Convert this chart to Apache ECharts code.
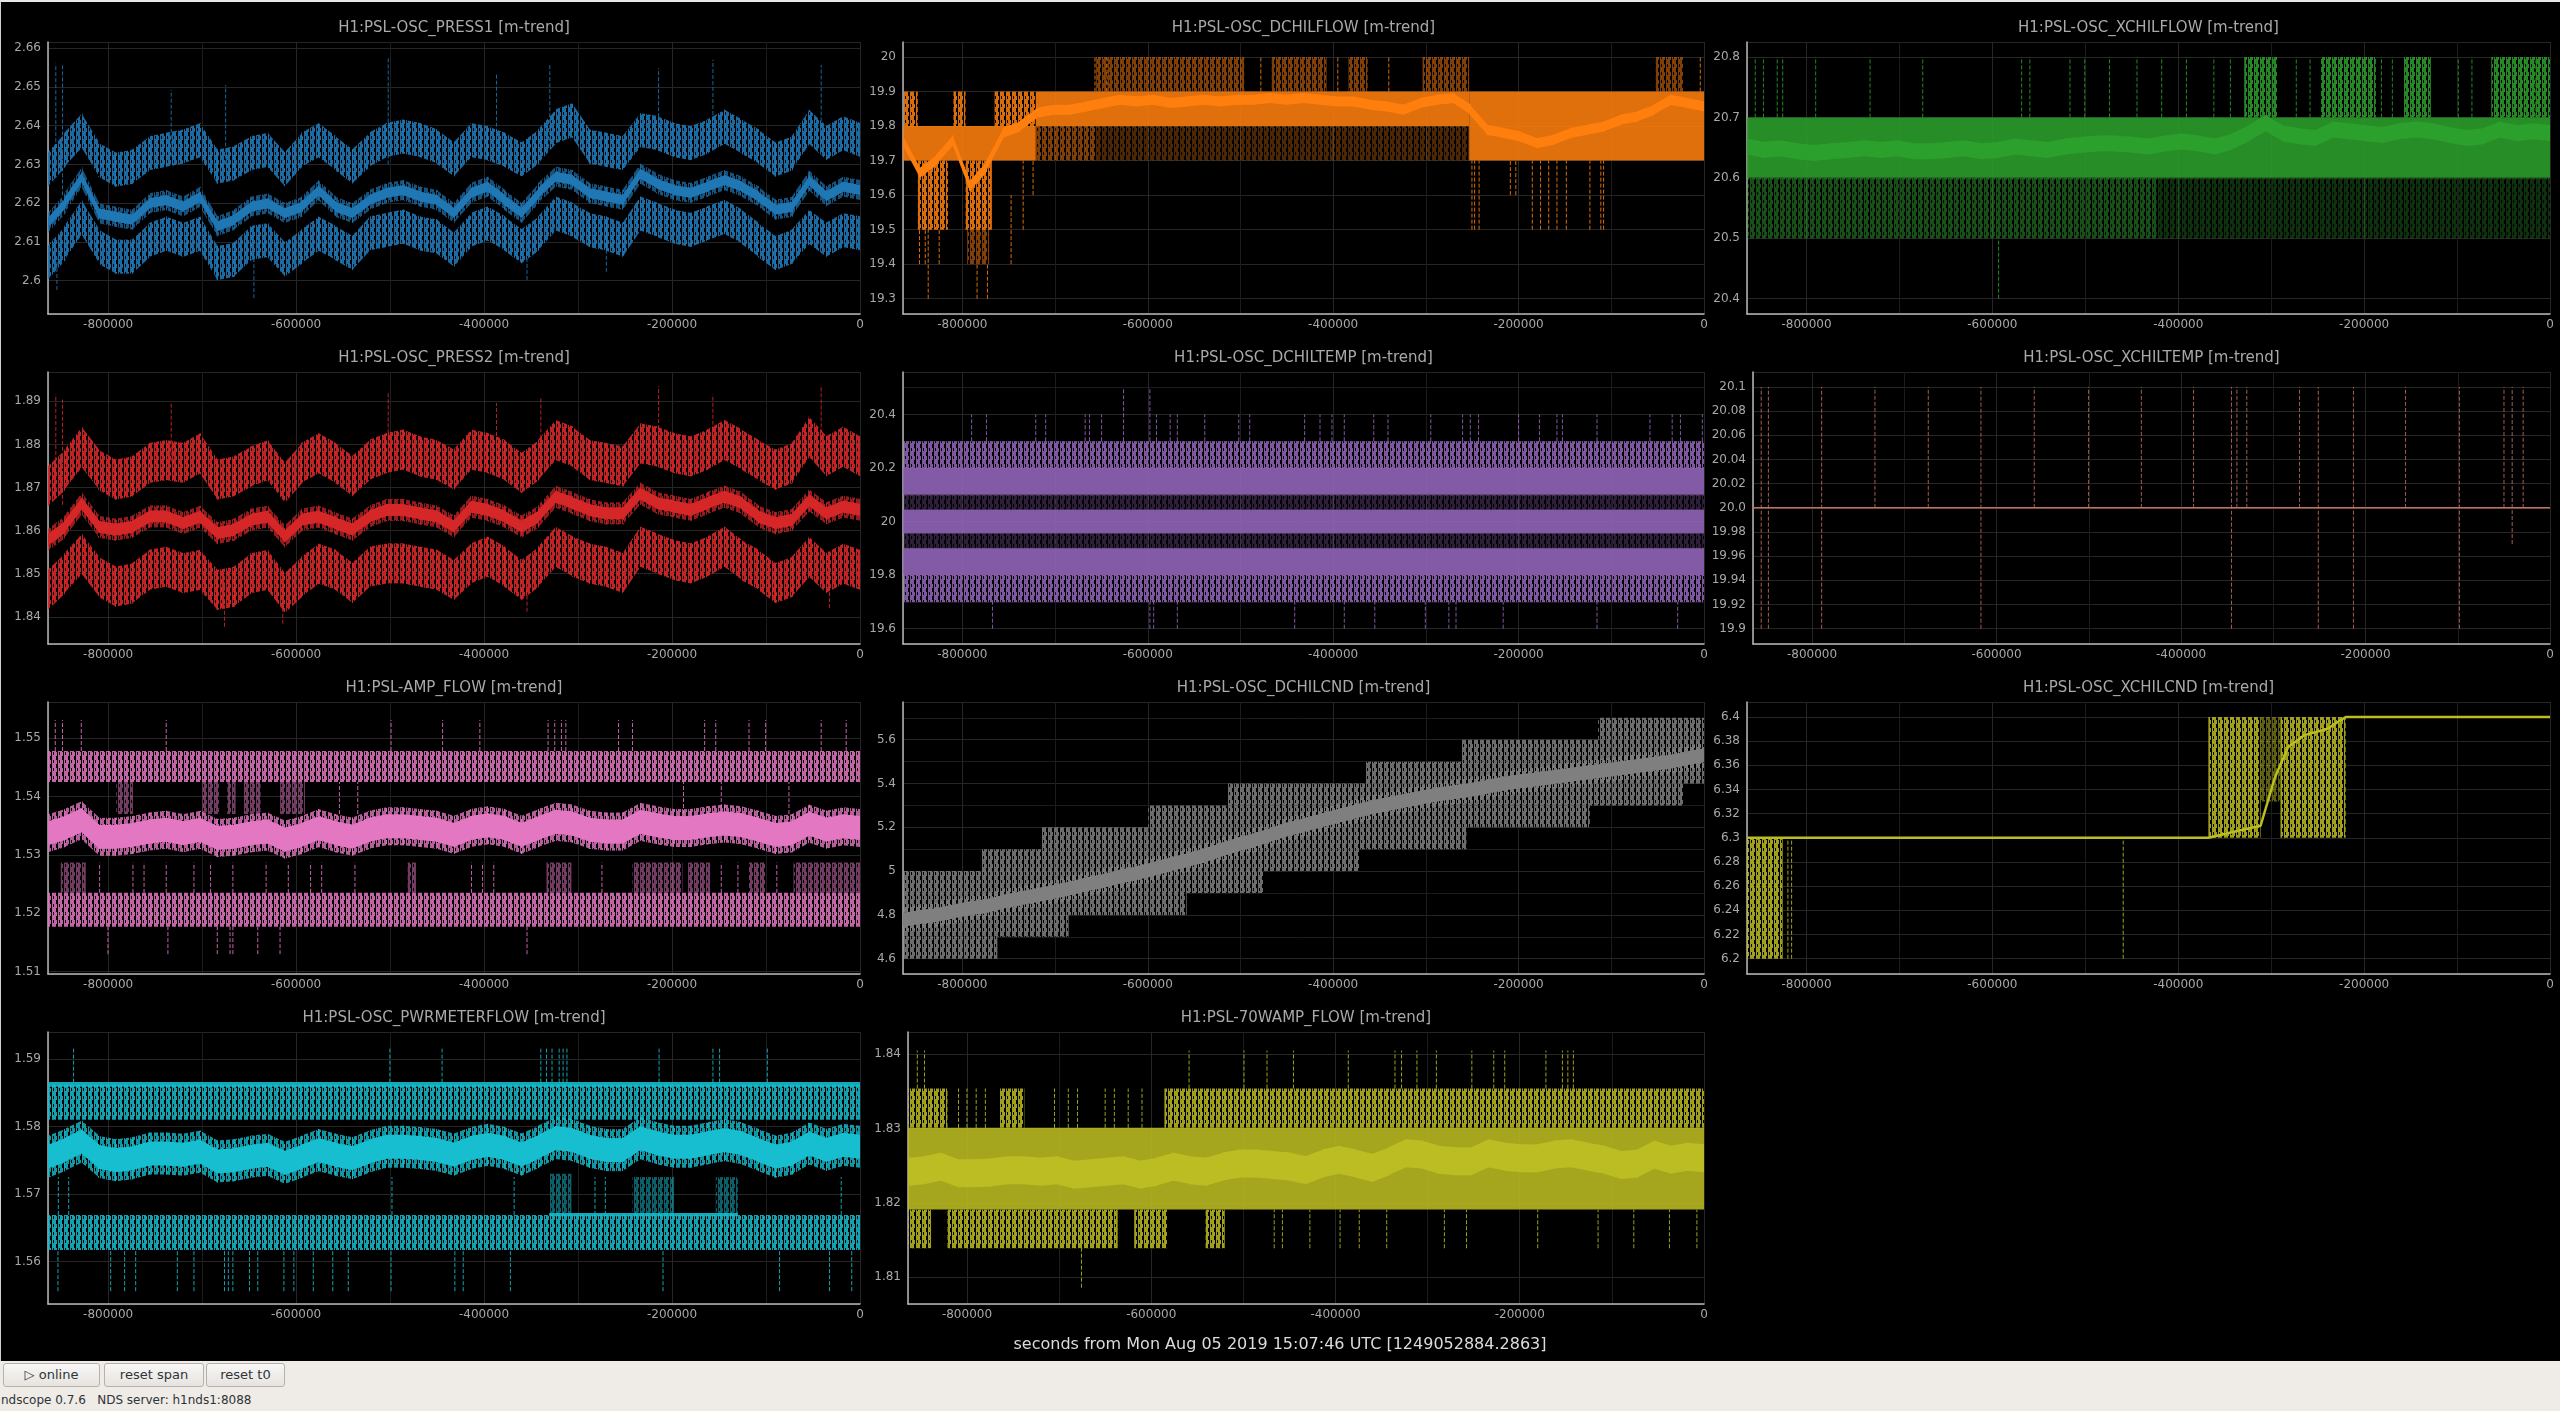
<!DOCTYPE html>
<html>
<head>
<meta charset="utf-8">
<title>ndscope</title>
<script src="https://cdn.jsdelivr.net/npm/echarts@6/dist/echarts.min.js"></script>
<style>
  body { margin:0; width:2560px; height:1411px; overflow:hidden; background:#efebe7; font-family:"DejaVu Sans", sans-serif; }
  #main { position:absolute; left:0; top:0; width:2560px; height:1361px; background:#000; }
  #edge { position:absolute; left:0; top:0; width:2560px; height:1361px; border-top:2px solid #e8e8e8; border-left:1px solid #d0d0d0; box-sizing:border-box; pointer-events:none; }
  .btn { position:absolute; top:1363px; height:22px; line-height:22px; text-align:center; font-size:13px; color:#2e3436;
         border:1px solid #b6b1ab; border-radius:3px; background:linear-gradient(#f8f7f6,#e6e3df); }
  #status { position:absolute; left:1px; top:1393px; font-size:12px; color:#2e3436; white-space:pre; }
</style>
</head>
<body>
<div id="main"></div>
<div id="edge"></div>
<div class="btn" style="left:3px;width:95px">&#9655; online</div>
<div class="btn" style="left:104px;width:98px">reset span</div>
<div class="btn" style="left:206px;width:77px">reset t0</div>
<div id="status">ndscope 0.7.6   NDS server: h1nds1:8088</div>
<script type="text/javascript">
// sample times, seconds before t0
var T = [-864000,-846000,-828000,-810000,-792000,-774000,-756000,-738000,-720000,-702000,
  -684000,-666000,-648000,-630000,-612000,-594000,-576000,-558000,-540000,-522000,
  -504000,-486000,-468000,-450000,-432000,-414000,-396000,-378000,-360000,-342000,
  -324000,-306000,-288000,-270000,-252000,-234000,-216000,-198000,-180000,-162000,
  -144000,-126000,-108000,-90000,-72000,-54000,-36000,-18000,0];

// ---- PRESS1
var press1Max = [2.6286,2.6338,2.6389,2.6312,2.6286,2.6294,2.6329,2.6338,2.6346,2.6363,
  2.6294,2.6303,2.6329,2.6338,2.6286,2.6338,2.6363,2.6329,2.6294,2.6338,
  2.6363,2.6372,2.6363,2.6346,2.6312,2.6363,2.6355,2.6338,2.6312,2.6346,
  2.6398,2.6415,2.6346,2.6338,2.6329,2.6389,2.6381,2.6363,2.6355,2.6372,
  2.6398,2.6372,2.6346,2.6312,2.6329,2.6398,2.6355,2.6381,2.6363];
var press1Mean = [2.6148,2.6200,2.6269,2.6174,2.6165,2.6157,2.6200,2.6208,2.6191,2.6217,
  2.6140,2.6157,2.6191,2.6200,2.6174,2.6191,2.6234,2.6191,2.6174,2.6208,
  2.6226,2.6234,2.6217,2.6208,2.6174,2.6226,2.6243,2.6208,2.6174,2.6226,
  2.6269,2.6260,2.6226,2.6217,2.6208,2.6277,2.6251,2.6234,2.6226,2.6243,
  2.6260,2.6243,2.6217,2.6183,2.6191,2.6260,2.6217,2.6243,2.6234];
var press1Min = [2.6045,2.6097,2.6165,2.6088,2.6062,2.6062,2.6105,2.6122,2.6105,2.6122,
  2.6045,2.6054,2.6097,2.6105,2.6054,2.6088,2.6122,2.6097,2.6071,2.6122,
  2.6131,2.6140,2.6122,2.6114,2.6079,2.6131,2.6148,2.6122,2.6088,2.6122,
  2.6174,2.6157,2.6131,2.6122,2.6105,2.6174,2.6157,2.6140,2.6131,2.6148,
  2.6165,2.6140,2.6105,2.6071,2.6088,2.6140,2.6105,2.6131,2.6122];
var press1Spikes = [[-855700,2.628,2.656],[-848600,2.622,2.6557],[-732900,2.632,2.6492],[-675000,2.630,2.6505],
  [-502000,2.630,2.6578],[-386800,2.632,2.6535],[-330100,2.636,2.6561],[-214300,2.636,2.6548],
  [-156500,2.635,2.657],[-41300,2.638,2.6557],[-854500,2.5976,2.606],[-644900,2.5955,2.608],
  [-354300,2.6002,2.610],[-269900,2.6023,2.610]];

// ---- PRESS2
var press2Max = [1.8702,1.8741,1.8795,1.8741,1.8718,1.8726,1.8757,1.8764,1.8757,1.8780,
  1.8718,1.8726,1.8749,1.8764,1.8710,1.8757,1.8780,1.8757,1.8726,1.8764,
  1.8780,1.8788,1.8772,1.8764,1.8741,1.8788,1.8780,1.8764,1.8733,1.8764,
  1.8811,1.8795,1.8764,1.8757,1.8749,1.8803,1.8795,1.8780,1.8772,1.8788,
  1.8811,1.8788,1.8764,1.8741,1.8757,1.8819,1.8772,1.8795,1.8772];
var press2Mean = [1.8578,1.8609,1.8664,1.8609,1.8602,1.8609,1.8633,1.8633,1.8617,1.8633,
  1.8594,1.8602,1.8625,1.8633,1.8586,1.8625,1.8633,1.8617,1.8602,1.8633,
  1.8648,1.8648,1.8640,1.8633,1.8609,1.8656,1.8648,1.8633,1.8609,1.8633,
  1.8679,1.8664,1.8648,1.8640,1.8640,1.8687,1.8664,1.8656,1.8648,1.8664,
  1.8679,1.8664,1.8633,1.8617,1.8625,1.8671,1.8640,1.8656,1.8648];
var press2Min = [1.8462,1.8501,1.8547,1.8493,1.8470,1.8478,1.8509,1.8516,1.8501,1.8509,
  1.8462,1.8470,1.8501,1.8509,1.8454,1.8493,1.8524,1.8509,1.8478,1.8516,
  1.8524,1.8524,1.8516,1.8509,1.8485,1.8524,1.8540,1.8516,1.8485,1.8516,
  1.8563,1.8540,1.8524,1.8516,1.8501,1.8563,1.8547,1.8532,1.8524,1.8540,
  1.8563,1.8532,1.8509,1.8478,1.8493,1.8540,1.8501,1.8524,1.8509];
var press2Spikes = [[-855700,1.872,1.8916],[-848600,1.866,1.8904],[-732900,1.876,1.8896],[-502000,1.877,1.8919],
  [-386800,1.875,1.8896],[-339600,1.880,1.8908],[-214300,1.878,1.8935],[-156500,1.879,1.8916],
  [-41300,1.877,1.8935],[-676200,1.8377,1.848],[-614200,1.8384,1.848],[-354300,1.8412,1.850],[-32400,1.842,1.850]];

// ---- AMP_FLOW
var ampMean = [1.5337,1.5346,1.5360,1.5331,1.5331,1.5334,1.5340,1.5343,1.5337,1.5343,
  1.5329,1.5331,1.5337,1.5340,1.5326,1.5334,1.5346,1.5337,1.5331,1.5343,
  1.5349,1.5349,1.5346,1.5343,1.5334,1.5346,1.5351,1.5346,1.5334,1.5346,
  1.5357,1.5354,1.5343,1.5340,1.5340,1.5357,1.5351,1.5346,1.5346,1.5351,
  1.5354,1.5351,1.5343,1.5334,1.5337,1.5354,1.5343,1.5349,1.5346];
var ampHatch = [[-864000,0,1.5425,1.5478],[-864000,0,1.5177,1.5235]];
var ampSparse = [[-850400,-823800,1.5235,1.5287],[-481300,-472400,1.5235,1.5287],[-333600,-307100,1.5235,1.5287],
  [-242100,-188900,1.5235,1.5287],[-183000,-159400,1.5235,1.5287],[-118100,-100400,1.5235,1.5287],
  [-70800,0,1.5235,1.5287],
  [-791400,-773600,1.537,1.5425],[-699800,-682100,1.537,1.5425],[-673200,-664400,1.537,1.5425],
  [-655500,-637800,1.537,1.5425],[-617100,-590600,1.537,1.5425]];
var ampSpikes = [[-856300,1.5478,1.5531],[-848600,1.5478,1.5531],[-828600,1.5478,1.5531],[-738200,1.5478,1.5531],
  [-499000,1.5478,1.5531],[-444100,1.5478,1.5531],[-404500,1.5478,1.5531],[-331900,1.5478,1.5531],
  [-324800,1.5478,1.5531],[-317700,1.5478,1.5531],[-313000,1.5478,1.5531],[-256900,1.5478,1.5531],
  [-242100,1.5478,1.5531],[-165300,1.5478,1.5531],[-153500,1.5478,1.5531],[-118100,1.5478,1.5531],
  [-100400,1.5478,1.5531],[-41300,1.5478,1.5531],[-14700,1.5478,1.5531],
  [-800200,1.513,1.5177],[-736400,1.513,1.5177],[-683900,1.513,1.5177],[-670300,1.513,1.5177],
  [-667300,1.513,1.5177],[-640800,1.513,1.5177],[-617100,1.513,1.5177],[-354300,1.513,1.5177],
  [-809100,1.5235,1.5287],[-773600,1.5235,1.5287],[-761800,1.5235,1.5287],[-738200,1.5235,1.5287],
  [-708700,1.5235,1.5287],[-691000,1.5235,1.5287],[-667300,1.5235,1.5287],[-631900,1.5235,1.5287],
  [-608300,1.5235,1.5287],[-584600,1.5235,1.5287],[-572800,1.5235,1.5287],[-537400,1.5235,1.5287],
  [-413400,1.5235,1.5287],[-401600,1.5235,1.5287],[-389700,1.5235,1.5287],[-274600,1.5235,1.5287],
  [-147600,1.5235,1.5287],[-129900,1.5235,1.5287],[-88500,1.5235,1.5287],
  [-553900,1.537,1.5425],[-534400,1.537,1.5425],[-187800,1.537,1.5425],[-147600,1.537,1.5425],[-75600,1.537,1.5425]];

// ---- PWRMETERFLOW
var pwrMean = [1.5755,1.5765,1.5778,1.5755,1.5750,1.5753,1.5760,1.5760,1.5758,1.5763,
  1.5748,1.5750,1.5755,1.5758,1.5746,1.5755,1.5765,1.5758,1.5753,1.5763,
  1.5770,1.5770,1.5768,1.5765,1.5758,1.5768,1.5773,1.5768,1.5758,1.5770,
  1.5783,1.5780,1.5770,1.5765,1.5765,1.5783,1.5775,1.5770,1.5770,1.5775,
  1.5780,1.5775,1.5765,1.5755,1.5760,1.5775,1.5765,1.5773,1.5770];
var pwrSolid = [[-864000,0,1.5859,1.5866],[-330700,-130000,1.5667,1.5672]];
var pwrHatch = [[-864000,0,1.5810,1.5862],[-864000,0,1.5617,1.5669]];
var pwrSparse = [[-330700,-307100,1.5669,1.5730],[-242100,-197800,1.5669,1.5725],[-153500,-129900,1.5669,1.5725]];
var pwrSpikes = [[-836800,1.5865,1.5917],[-500200,1.5865,1.5917],[-444700,1.5865,1.5917],[-339600,1.5865,1.5917],
  [-333600,1.5865,1.5917],[-327700,1.5865,1.5917],[-320100,1.5865,1.5917],[-315900,1.5865,1.5917],
  [-311800,1.5865,1.5917],[-213800,1.5865,1.5917],[-156500,1.5865,1.5917],[-149400,1.5865,1.5917],[-98600,1.5865,1.5917],
  [-853400,1.5556,1.5617],[-797300,1.5556,1.5617],[-782500,1.5556,1.5617],[-770700,1.5556,1.5617],
  [-726400,1.5556,1.5617],[-708700,1.5556,1.5617],[-676200,1.5556,1.5617],[-672100,1.5556,1.5617],
  [-667300,1.5556,1.5617],[-649600,1.5556,1.5617],[-640800,1.5556,1.5617],[-613000,1.5556,1.5617],
  [-602400,1.5556,1.5617],[-581700,1.5556,1.5617],[-561000,1.5556,1.5617],[-544500,1.5556,1.5617],
  [-499000,1.5556,1.5617],[-431100,1.5556,1.5617],[-422200,1.5556,1.5617],[-372000,1.5556,1.5617],
  [-209600,1.5556,1.5617],[-85600,1.5556,1.5617],[-32400,1.5556,1.5617],[-8800,1.5556,1.5617],
  [-853000,1.5669,1.5725],[-842000,1.5669,1.5725],[-498000,1.5669,1.5725],[-368000,1.5669,1.5725],
  [-282000,1.5669,1.5725],[-271000,1.5669,1.5725],[-20000,1.5669,1.5725]];

// ---- 70WAMP_FLOW
var w70Mean = [1.8242,1.8244,1.8249,1.8240,1.8240,1.8241,1.8244,1.8244,1.8242,1.8244,
  1.8238,1.8240,1.8242,1.8244,1.8238,1.8242,1.8249,1.8244,1.8242,1.8249,
  1.8253,1.8253,1.8251,1.8249,1.8244,1.8253,1.8258,1.8253,1.8247,1.8256,
  1.8267,1.8265,1.8258,1.8256,1.8256,1.8267,1.8262,1.8260,1.8260,1.8265,
  1.8267,1.8262,1.8258,1.8251,1.8253,1.8265,1.8258,1.8262,1.8260];
var w70Solid = [[-864000,0,1.8191,1.8301]];
var w70Hatch = [[-864000,-821100,1.8301,1.8354],[-764500,-737700,1.8301,1.8354],[-585700,0,1.8301,1.8354],
  [-864000,-839000,1.8139,1.8191],[-821100,-636400,1.8139,1.8191],[-618500,-582700,1.8139,1.8191],[-541000,-520200,1.8139,1.8191]];
var w70Spikes = [[-853900,1.8354,1.8405],[-846100,1.8354,1.8405],[-558900,1.8354,1.8405],[-499300,1.8354,1.8405],
  [-474300,1.8354,1.8405],[-445600,1.8354,1.8405],[-386100,1.8354,1.8405],[-335400,1.8354,1.8405],
  [-328300,1.8354,1.8405],[-311600,1.8354,1.8405],[-290500,1.8354,1.8405],[-252000,1.8354,1.8405],
  [-228200,1.8354,1.8405],[-216300,1.8354,1.8405],[-171600,1.8354,1.8405],[-153700,1.8354,1.8405],
  [-147800,1.8354,1.8405],[-141800,1.8354,1.8405],[-675700,1.8086,1.8139],
  [-466500,1.8139,1.8191],[-457600,1.8139,1.8191],[-427800,1.8139,1.8191],[-395000,1.8139,1.8191],
  [-374200,1.8139,1.8191],[-344400,1.8139,1.8191],[-281800,1.8139,1.8191],[-257800,1.8139,1.8191],
  [-180500,1.8139,1.8191],[-115000,1.8139,1.8191],[-76200,1.8139,1.8191],[-37500,1.8139,1.8191],[-7700,1.8139,1.8191],
  [-809200,1.8301,1.8354],[-800000,1.8301,1.8354],[-790000,1.8301,1.8354],[-780000,1.8301,1.8354],
  [-705000,1.8301,1.8354],[-690000,1.8301,1.8354],[-680000,1.8301,1.8354],[-650000,1.8301,1.8354],
  [-640000,1.8301,1.8354],[-625000,1.8301,1.8354],[-610000,1.8301,1.8354]];

// ---- DCHILFLOW
var dflowMean = [19.760,19.663,19.702,19.760,19.625,19.683,19.780,19.799,19.838,19.847,
  19.847,19.857,19.867,19.876,19.871,19.876,19.867,19.871,19.876,19.871,
  19.876,19.876,19.881,19.876,19.881,19.876,19.871,19.871,19.862,19.857,
  19.847,19.867,19.876,19.881,19.847,19.789,19.780,19.770,19.750,19.760,
  19.780,19.789,19.799,19.818,19.828,19.847,19.876,19.867,19.857];
var dflowSolid = [[-864000,-720800,19.7,19.8],[-720800,-253300,19.8,19.9],[-253300,0,19.7,19.9]];
var dflowHatch = [[-864000,-848000,19.8,19.9],[-809600,-796500,19.8,19.9],[-765200,-720800,19.8,19.9],
  [-848000,-815500,19.5,19.7],[-796500,-768100,19.5,19.7]];
var dflowSparse = [[-720800,-655700,19.7,19.8],[-655700,-495900,19.9,20.0],[-466300,-407100,19.9,20.0],
  [-383500,-362700,19.9,20.0],[-303600,-253300,19.9,20.0],[-52000,-22500,19.9,20.0],[-794800,-771100,19.4,19.5]];
var dflowFaint = [[-655700,-253300,19.7,19.8]];
var dflowSpikes = [[-846200,19.4,19.5],[-840000,19.4,19.5],[-836800,19.3,19.5],[-825000,19.4,19.5],
  [-784100,19.3,19.4],[-772900,19.3,19.4],[-747400,19.4,19.6],[-734400,19.5,19.7],[-723700,19.6,19.7],
  [-250300,19.5,19.7],[-247400,19.5,19.7],[-242600,19.5,19.7],[-208900,19.6,19.7],[-203000,19.6,19.7],
  [-185200,19.5,19.7],[-176300,19.5,19.7],[-167500,19.5,19.7],[-158600,19.5,19.7],[-148500,19.5,19.7],
  [-123100,19.5,19.7],[-111300,19.5,19.7],[-108300,19.5,19.7],[-656900,19.9,20.0],[-643900,19.9,20.0],
  [-478000,19.9,20.0],[-395000,19.9,20.0],[-340000,19.9,20.0],[-4000,19.9,20.0]];

// ---- XCHILFLOW
var xflowMean = [20.652,20.646,20.649,20.644,20.641,20.644,20.646,20.649,20.646,20.649,
  20.644,20.644,20.646,20.649,20.644,20.646,20.652,20.649,20.646,20.652,
  20.655,20.657,20.657,20.655,20.652,20.657,20.660,20.657,20.652,20.660,
  20.674,20.691,20.674,20.669,20.666,20.680,20.677,20.674,20.671,20.677,
  20.680,20.677,20.671,20.666,20.669,20.680,20.674,20.677,20.674];
var xflowSolid = [[-864000,0,20.6,20.7]];
var xflowHatch = [[-329000,-293700,20.7,20.8],[-246400,-187300,20.7,20.8],[-157800,-128200,20.7,20.8],[-63200,0,20.7,20.8]];
var xflowSparse = [[-864000,-423700,20.5,20.6]];
var xflowFaint = [[-423700,0,20.5,20.6]];
var xflowSpikes = [[-855100,20.7,20.8],[-846300,20.7,20.8],[-831500,20.7,20.8],[-825600,20.7,20.8],
  [-790100,20.7,20.8],[-731600,20.7,20.8],[-674900,20.7,20.8],[-568500,20.7,20.8],[-559700,20.7,20.8],
  [-516500,20.7,20.8],[-500600,20.7,20.8],[-474000,20.7,20.8],[-444400,20.7,20.8],[-417800,20.7,20.8],
  [-391200,20.7,20.8],[-361700,20.7,20.8],[-343900,20.7,20.8],[-273000,20.7,20.8],[-258200,20.7,20.8],
  [-181400,20.7,20.8],[-169600,20.7,20.8],[-98700,20.7,20.8],[-84000,20.7,20.8],[-27800,20.7,20.8],
  [-16000,20.7,20.8],[-593300,20.4,20.5]];

// ---- DCHILTEMP
var dtempSolid = [[-864000,0,20.1,20.2],[-864000,0,19.8,19.9],[-864000,0,19.955,20.045]];
var dtempHatch = [[-864000,0,20.2,20.3],[-864000,0,19.7,19.8]];
var dtempFaint = [[-864000,0,20.045,20.1],[-864000,0,19.9,19.955]];
var dtempSpikes = [[-790000,20.3,20.4],[-774000,20.3,20.4],[-720800,20.3,20.4],[-710100,20.3,20.4],
  [-667500,20.3,20.4],[-662800,20.3,20.4],[-649800,20.3,20.4],[-626100,20.3,20.5],[-597700,20.3,20.5],
  [-590600,20.3,20.4],[-575800,20.3,20.4],[-568100,20.3,20.4],[-538500,20.3,20.4],[-501800,20.3,20.4],
  [-490000,20.3,20.4],[-430800,20.3,20.4],[-414200,20.3,20.4],[-401300,20.3,20.4],[-388000,20.3,20.4],
  [-356200,20.3,20.4],[-340900,20.3,20.4],[-294700,20.3,20.4],[-260400,20.3,20.4],[-252100,20.3,20.4],
  [-243200,20.3,20.4],[-200000,20.3,20.4],[-177500,20.3,20.4],[-158600,20.3,20.4],[-152700,20.3,20.4],
  [-115400,20.3,20.4],[-58300,20.3,20.4],[-34300,20.3,20.4],[-25400,20.3,20.4],[-1800,20.3,20.4],
  [-767500,19.6,19.7],[-597700,19.6,19.7],[-593600,19.6,19.7],[-568100,19.6,19.7],[-441500,19.6,19.7],
  [-388000,19.6,19.7],[-355100,19.6,19.7],[-300600,19.6,19.7],[-275200,19.6,19.7],[-267500,19.6,19.7],
  [-216600,19.6,19.7],[-115400,19.6,19.7],[-28400,19.6,19.7]];

// ---- XCHILTEMP
var xtempT = [-864000, 0];
var xtempV = [20.0, 20.0];
var xtempSpikes = [[-855100,19.9,20.1],[-847300,19.9,20.1],[-789600,19.9,20.1],[-731800,20.0,20.1],
  [-674000,20.0,20.1],[-616900,19.9,20.1],[-559100,20.0,20.1],[-500200,20.0,20.1],[-443000,20.0,20.1],
  [-386400,20.0,20.1],[-345300,19.9,20.1],[-339400,20.0,20.1],[-328700,20.0,20.1],[-271500,20.0,20.1],
  [-251200,19.9,20.1],[-213100,19.9,20.1],[-156600,20.0,20.1],[-98200,19.9,20.1],[-49900,20.0,20.1],
  [-41000,19.97,20.1],[-29100,20.0,20.1]];

// ---- DCHILCND
var dcndMean = [4.777,4.790,4.800,4.815,4.830,4.840,4.860,4.875,4.890,4.905,
  4.920,4.940,4.955,4.975,4.990,5.010,5.030,5.050,5.070,5.095,
  5.120,5.140,5.165,5.190,5.210,5.230,5.250,5.270,5.290,5.305,
  5.320,5.335,5.350,5.360,5.370,5.385,5.400,5.410,5.420,5.430,
  5.440,5.450,5.460,5.470,5.480,5.490,5.500,5.515,5.530];
var dcndHatch = [[-864000,-762200,4.6,4.7],[-864000,-685300,4.7,4.8],[-864000,-558000,4.8,4.9],
  [-864000,-475200,4.9,5.0],[-780000,-371600,5.0,5.1],[-714900,-256200,5.1,5.2],[-599500,-123100,5.2,5.3],
  [-513700,-22500,5.3,5.4],[-365700,0,5.4,5.5],[-262100,0,5.5,5.6],[-114200,0,5.6,5.7]];

// ---- XCHILCND
var xcndT = [-864000,-367600,-340000,-311400,-296000,-281900,-264100,-240000,-219800,0];
var xcndV = [6.3,6.3,6.305,6.31,6.35,6.375,6.385,6.39,6.4,6.4];
var xcndHatch = [[-864000,-825600,6.2,6.3],[-367600,-311400,6.3,6.4],[-290000,-219800,6.3,6.4]];
var xcndSparse = [[-311400,-290000,6.33,6.4]];
var xcndSpikes = [[-459200,6.2,6.3],[-820000,6.2,6.3],[-816000,6.2,6.3]];

// styles: ribbons are [xs, ys, half height px, 'solid'|'hatch', opacity]
var panels = [
  {title:'H1:PSL-OSC_PRESS1 [m-trend]', color:'#1f77b4', row:0, left:48, right:860, ymin:2.5914, ymax:2.6616, step:0.01, dec:2,
   ribbons:[[T,press1Max,17,'hatch',0.9],[T,press1Min,17,'hatch',0.9],[T,press1Mean,10,'hatch',0.7],[T,press1Mean,5,'solid',1]], spikes:press1Spikes},
  {title:'H1:PSL-OSC_DCHILFLOW [m-trend]', color:'#ff7f0e', row:0, left:903, right:1704, ymin:19.2556, ymax:20.0435, step:0.1, dec:1,
   solid:dflowSolid, hatch:dflowHatch, sparse:dflowSparse, faint:dflowFaint, ribbons:[[T,dflowMean,5,'solid',1]], spikes:dflowSpikes},
  {title:'H1:PSL-OSC_XCHILFLOW [m-trend]', color:'#2ca02c', row:0, left:1747, right:2550, ymin:20.3746, ymax:20.8249, step:0.1, dec:1,
   solid:xflowSolid, hatch:xflowHatch, sparse:xflowSparse, faint:xflowFaint, ribbons:[[T,xflowMean,8,'solid',1]], spikes:xflowSpikes},
  {title:'H1:PSL-OSC_PRESS2 [m-trend]', color:'#d62728', row:1, left:48, right:860, ymin:1.8337, ymax:1.8968, step:0.01, dec:2,
   ribbons:[[T,press2Max,20,'hatch',0.9],[T,press2Min,20,'hatch',0.9],[T,press2Mean,11,'hatch',0.7],[T,press2Mean,6,'solid',1]], spikes:press2Spikes},
  {title:'H1:PSL-OSC_DCHILTEMP [m-trend]', color:'#9467bd', row:1, left:903, right:1704, ymin:19.5428, ymax:20.5585, step:0.2, dec:1, minor:true,
   solid:dtempSolid, hatch:dtempHatch, faint:dtempFaint, spikes:dtempSpikes},
  {title:'H1:PSL-OSC_XCHILTEMP [m-trend]', color:'#c0705f', row:1, left:1753, right:2550, ymin:19.8873, ymax:20.1124, step:0.02, dec:2, keepOne:true,
   lines:[[xtempT,xtempV,1.5]], spikes:xtempSpikes},
  {title:'H1:PSL-AMP_FLOW [m-trend]', color:'#e377c2', row:2, left:48, right:860, ymin:1.5096, ymax:1.5562, step:0.01, dec:2,
   hatch:ampHatch, sparse:ampSparse, ribbons:[[T,ampMean,19,'hatch',0.8],[T,ampMean,12,'solid',1]], spikes:ampSpikes},
  {title:'H1:PSL-OSC_DCHILCND [m-trend]', color:'#7f7f7f', row:2, left:903, right:1704, ymin:4.530, ymax:5.7724, step:0.2, dec:1, minor:true,
   hatch:dcndHatch, ribbons:[[T,dcndMean,12,'hatch',0.8],[T,dcndMean,7,'solid',1]], spikes:[]},
  {title:'H1:PSL-OSC_XCHILCND [m-trend]', color:'#bcbd22', row:2, left:1747, right:2550, ymin:6.1873, ymax:6.4124, step:0.02, dec:2,
   hatch:xcndHatch, sparse:xcndSparse, lines:[[xcndT,xcndV,2.5]], spikes:xcndSpikes},
  {title:'H1:PSL-OSC_PWRMETERFLOW [m-trend]', color:'#17becf', row:3, left:48, right:860, ymin:1.5537, ymax:1.5940, step:0.01, dec:2,
   solid:pwrSolid, hatch:pwrHatch, sparse:pwrSparse, ribbons:[[T,pwrMean,21,'hatch',0.8],[T,pwrMean,12,'solid',1]], spikes:pwrSpikes},
  {title:'H1:PSL-70WAMP_FLOW [m-trend]', color:'#bcbd22', row:3, left:908, right:1704, ymin:1.8064, ymax:1.8430, step:0.01, dec:2,
   solid:w70Solid, hatch:w70Hatch, ribbons:[[T,w70Mean,14,'solid',1]], spikes:w70Spikes}
];

function hatch(color) {
  var c = document.createElement('canvas');
  c.width = 6; c.height = 8;
  var g = c.getContext('2d');
  g.fillStyle = color;
  g.fillRect(0, 0, 1, 8);
  g.fillRect(1, 0, 1, 8);
  g.fillRect(2, 0, 1, 4);
  g.fillRect(4, 0, 1, 8);
  g.fillRect(5, 3, 1, 5);
  return { image: c, repeat: 'repeat' };
}

function bandSeries(k, data, fill, opacity, z) {
  return {
    type: 'custom', xAxisIndex: k, yAxisIndex: k, data: data, silent: true, clip: true, z: z,
    encode: { x: [0, 1], y: [2, 3] },
    renderItem: function (params, api) {
      var a = api.coord([api.value(0), api.value(3)]);
      var b = api.coord([api.value(1), api.value(2)]);
      return { type: 'rect', shape: { x: a[0], y: a[1], width: b[0] - a[0], height: b[1] - a[1] },
               style: { fill: fill, opacity: opacity } };
    }
  };
}

// a trace drawn as a vertical-thickness ribbon, one quad per sample interval
function ribbonSeries(k, xs, ys, half, fill, opacity, z) {
  var segs = [];
  for (var i = 0; i + 1 < xs.length; i++) segs.push([xs[i], ys[i], xs[i + 1], ys[i + 1]]);
  return {
    type: 'custom', xAxisIndex: k, yAxisIndex: k, data: segs, silent: true, clip: true, z: z,
    encode: { x: [0, 2], y: [1, 3] },
    renderItem: function (params, api) {
      var a = api.coord([api.value(0), api.value(1)]);
      var b = api.coord([api.value(2), api.value(3)]);
      var pad = 0.6;
      return { type: 'polygon',
               shape: { points: [[a[0] - pad, a[1] - half], [b[0] + pad, b[1] - half], [b[0] + pad, b[1] + half], [a[0] - pad, a[1] + half]] },
               style: { fill: fill, opacity: opacity } };
    }
  };
}

function spikeSeries(k, data, color) {
  return {
    type: 'custom', xAxisIndex: k, yAxisIndex: k, data: data, silent: true, clip: true, z: 3,
    encode: { x: 0, y: [1, 2] },
    renderItem: function (params, api) {
      var a = api.coord([api.value(0), api.value(1)]);
      var b = api.coord([api.value(0), api.value(2)]);
      return { type: 'line', shape: { x1: a[0], y1: a[1], x2: b[0], y2: b[1] },
               style: { stroke: color, lineWidth: 1, lineDash: [4, 2], opacity: 0.85 } };
    }
  };
}

var grids = [], xAxes = [], yAxes = [], titles = [], series = [];
var font = 'DejaVu Sans';
panels.forEach(function (p, k) {
  var top = 42 + 330 * p.row;
  grids.push({ left: p.left, top: top, width: p.right - p.left, height: 272, containLabel: false, outerBoundsMode: 'none' });
  xAxes.push({
    gridIndex: k, type: 'value', min: -864000, max: 0, minInterval: 200000, maxInterval: 200000,
    axisLine: { show: true, onZero: false, lineStyle: { color: '#b8b8b8', width: 1.5 } },
    axisTick: { show: false },
    axisLabel: { color: '#a8a8a8', fontSize: 12, fontFamily: font, margin: 5, showMinLabel: false, showMaxLabel: true,
                 formatter: function (v) { return String(v); } },
    splitLine: { show: true, lineStyle: { color: '#262626', width: 1 } },
    minorTick: { show: false, splitNumber: 2 },
    minorSplitLine: { show: true, lineStyle: { color: '#1c1c1c', width: 1 } }
  });
  yAxes.push({
    gridIndex: k, type: 'value', min: p.ymin, max: p.ymax, minInterval: p.step, maxInterval: p.step,
    axisLine: { show: true, onZero: false, lineStyle: { color: '#b8b8b8', width: 1.5 } },
    axisTick: { show: false },
    axisLabel: { color: '#a8a8a8', fontSize: 12, fontFamily: font, margin: 7, showMinLabel: false, showMaxLabel: false,
                 formatter: function (v) {
                   var s = v.toFixed(p.dec);
                   if (p.keepOne) return s.charAt(s.length - 1) === '0' ? s.slice(0, -1) : s;
                   return String(+s);
                 } },
    splitLine: { show: true, lineStyle: { color: '#262626', width: 1 } },
    minorTick: { show: false, splitNumber: 2 },
    minorSplitLine: { show: !!p.minor, lineStyle: { color: '#1c1c1c', width: 1 } }
  });
  titles.push({
    text: p.title, left: (p.left + p.right) / 2, top: top - 21, textAlign: 'center', padding: 0,
    textStyle: { color: '#a9a9a9', fontSize: 15, fontWeight: 'normal', fontFamily: font }
  });
  var pat = hatch(p.color);
  if (p.faint) series.push(bandSeries(k, p.faint, pat, 0.3, 1));
  if (p.sparse) series.push(bandSeries(k, p.sparse, pat, 0.5, 1));
  if (p.hatch) series.push(bandSeries(k, p.hatch, pat, 0.85, 1));
  if (p.solid) series.push(bandSeries(k, p.solid, p.color, 0.88, 2));
  if (p.spikes && p.spikes.length) series.push(spikeSeries(k, p.spikes, p.color));
  (p.ribbons || []).forEach(function (r, j) {
    series.push(ribbonSeries(k, r[0], r[1], r[2], r[3] === 'hatch' ? pat : p.color, r[4], 4 + j));
  });
  (p.lines || []).forEach(function (l) {
    var xs = l[0], ys = l[1];
    series.push({
      type: 'line', xAxisIndex: k, yAxisIndex: k, silent: true, z: 4, symbol: 'none', showSymbol: false,
      data: xs.map(function (t, i) { return [t, ys[i]]; }),
      lineStyle: { color: p.color, width: l[2], opacity: 1, join: 'round', cap: 'butt' }
    });
  });
});

titles.push({
  text: 'seconds from Mon Aug 05 2019 15:07:46 UTC [1249052884.2863]', left: 1280, top: 1337, textAlign: 'center', padding: 0,
  textStyle: { color: '#dcdcdc', fontSize: 16, fontWeight: 'normal', fontFamily: font }
});

var myChart = echarts.init(document.getElementById('main'));
myChart.setOption({
  backgroundColor: '#000000',
  animation: false,
  title: titles,
  grid: grids,
  xAxis: xAxes,
  yAxis: yAxes,
  series: series
});
</script>
</body>
</html>
